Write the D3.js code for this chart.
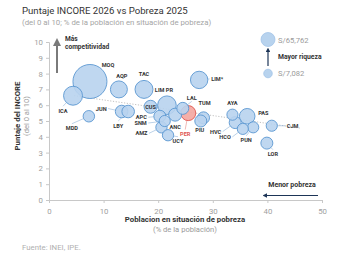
<!DOCTYPE html>
<html>
<head>
<meta charset="utf-8">
<script src="https://cdn.jsdelivr.net/npm/d3@7"></script>
<style>
  body { margin: 0; background: #fff; }
  svg { display: block; font-family: Roboto, "Open Sans", sans-serif; }
</style>
</head>
<body>
<svg id="chart" width="350" height="257"></svg>
<script>
'use strict'

// data
var regions = ["MOQ", "ICA", "MDD", "AQP", "JUN", "LBY", "TAC", "LIM PR", "LIM*", "CUS",
               "APC", "SNM", "AMZ", "ANC", "UCY", "LAL", "PER", "TUM", "PIU", "AYA",
               "PAS", "HVC", "HCO", "PUN", "CJM", "LOR"];
var pobreza = [7.5, 4.4, 7.3, 12.8, 13.3, 14.5, 17.4, 21.6, 27.5, 18.6,
               20.3, 21.2, 20.6, 23.1, 21.8, 24.5, 25.5, 28.3, 27.8, 33.6,
               36.3, 34.1, 35.5, 37.4, 40.8, 39.9];
var incore = [7.5, 6.6, 5.3, 7.0, 5.6, 5.6, 7.0, 6.0, 7.6, 5.9,
              5.3, 5.0, 4.6, 5.4, 4.1, 5.8, 5.5, 5.2, 5.0, 5.4,
              5.3, 4.9, 4.5, 4.6, 4.7, 3.6];
var pbiPc = [65762, 20500, 7500, 16400, 9000, 9000, 18400, 19700, 17200, 9600,
             8200, 7100, 7300, 9600, 7300, 8200, 12800, 8200, 8200, 7100,
             13800, 8200, 7082, 7100, 7100, 8200];
var trendX = [4.6, 46];
var trendY = [6.6, 4.55];
var xTicks = [0, 10, 20, 30, 40, 50];
var yTicks = [0, 1, 2, 3, 4, 5, 6, 7, 8, 9, 10];

// label layout: [dx, dy, anchor, leader]
var labelPos = {
  "MOQ": [18, -15, "middle", 0], "ICA": [-10, 17, "middle", 1], "MDD": [-17, 14, "middle", 1],
  "AQP": [3, -11, "middle", 0], "JUN": [-15, -1, "end", 1], "LBY": [-10, 16, "middle", 1],
  "TAC": [0, -13, "middle", 0], "LIM PR": [-3, -13, "middle", 0], "LIM*": [12, 1, "start", 1],
  "CUS": [0, 2, "middle", 0], "APC": [-13, 3, "end", 1], "SNM": [-18, 4, "end", 1],
  "AMZ": [-14, 8, "end", 1], "ANC": [0, 14, "middle", 0], "UCY": [10, 8, "middle", 1],
  "LAL": [9, -8, "middle", 1], "PER": [-3, 23, "middle", 1], "TUM": [1, -13, "middle", 0],
  "PIU": [-1, 11, "middle", 1], "AYA": [0, -10, "middle", 0], "PAS": [11, -1, "start", 0],
  "HVC": [-14, 11, "end", 1], "HCO": [-12, 10, "end", 1], "PUN": [-7, 15, "middle", 1],
  "CJM": [15, 2, "start", 1], "LOR": [6, 13, "middle", 1]
};

var svg = d3.select("#chart");
var x = d3.scaleLinear().domain([0, 50]).range([49, 322]);
var y = d3.scaleLinear().domain([0, 10]).range([200, 42]);
var r = d3.scaleSqrt().domain([0, 65762]).range([0, 17]);

// titles
svg.append("text").attr("x", 22).attr("y", 14).attr("font-size", 9.6)
  .attr("fill", "#333").text("Puntaje INCORE 2026 vs Pobreza 2025");
svg.append("text").attr("x", 22).attr("y", 24.5).attr("font-size", 7.8)
  .attr("fill", "#a5a5a5").text("(del 0 al 10; % de la población en situación de pobreza)");

// axes
var xAxis = svg.append("g").attr("transform", "translate(0,200)")
  .call(d3.axisBottom(x).tickValues(xTicks).tickSize(3).tickPadding(5));
var yAxis = svg.append("g").attr("transform", "translate(49,0)")
  .call(d3.axisLeft(y).tickValues(yTicks).tickSize(3).tickPadding(3));
[xAxis, yAxis].forEach(function(g) {
  g.select(".domain").attr("stroke", "#c8c8c8");
  g.selectAll(".tick line").attr("stroke", "#c8c8c8");
  g.selectAll(".tick text").attr("fill", "#a0a0a0").attr("font-size", 7.8)
    .attr("font-family", "Roboto, sans-serif");
});

// axis titles
svg.append("text").attr("x", 185).attr("y", 222).attr("text-anchor", "middle")
  .attr("font-size", 7.8).attr("font-weight", "bold").attr("fill", "#333")
  .text("Poblacion en situación de pobreza");
svg.append("text").attr("x", 185).attr("y", 231.5).attr("text-anchor", "middle")
  .attr("font-size", 7.6).attr("fill", "#9a9a9a").text("(% de la población)");
svg.append("text").attr("transform", "translate(20,116) rotate(-90)").attr("text-anchor", "middle")
  .attr("font-size", 7.8).attr("font-weight", "bold").attr("fill", "#333")
  .text("Puntaje del INCORE");
svg.append("text").attr("transform", "translate(29,116) rotate(-90)").attr("text-anchor", "middle")
  .attr("font-size", 7.6).attr("fill", "#9a9a9a").text("(del 0 al 10)");

svg.append("text").attr("x", 22).attr("y", 250).attr("font-size", 7.8)
  .attr("fill", "#b0b0b0").text("Fuente: INEI, IPE.");

// markers
var defs = svg.append("defs");
function marker(id, color) {
  defs.append("marker").attr("id", id).attr("viewBox", "0 0 10 10")
    .attr("refX", 5).attr("refY", 5).attr("markerWidth", 4).attr("markerHeight", 4)
    .attr("orient", "auto-start-reverse")
    .append("path").attr("d", "M0,0L10,5L0,10z").attr("fill", color);
}
marker("arrGray", "#7a7a7a");
marker("arrNavy", "#1d3557");

// annotations
svg.append("line").attr("x1", 57).attr("y1", 73).attr("x2", 57).attr("y2", 42)
  .attr("stroke", "#7a7a7a").attr("stroke-width", 2).attr("marker-end", "url(#arrGray)");
svg.append("text").attr("x", 65).attr("y", 41).attr("font-size", 6.6).attr("font-weight", "bold")
  .attr("fill", "#333").text("Más");
svg.append("text").attr("x", 65).attr("y", 49).attr("font-size", 6.6).attr("font-weight", "bold")
  .attr("fill", "#333").text("competitividad");

svg.append("line").attr("x1", 318).attr("y1", 195.5).attr("x2", 265).attr("y2", 195.5)
  .attr("stroke", "#1d3557").attr("stroke-width", 1.2).attr("marker-end", "url(#arrNavy)");
svg.append("text").attr("x", 292).attr("y", 187).attr("text-anchor", "middle")
  .attr("font-size", 7).attr("font-weight", "bold").attr("fill", "#333").text("Menor pobreza");

// size legend
svg.append("circle").attr("cx", 268).attr("cy", 39.5).attr("r", 7)
  .attr("fill", "#b8d3ee").attr("stroke", "#9cc0e6").attr("stroke-width", 0.7);
svg.append("circle").attr("cx", 268).attr("cy", 73.5).attr("r", 4.3)
  .attr("fill", "#b8d3ee").attr("stroke", "#9cc0e6").attr("stroke-width", 0.7);
svg.append("line").attr("x1", 268).attr("y1", 66).attr("x2", 268).attr("y2", 50)
  .attr("stroke", "#1d3557").attr("stroke-width", 1.2).attr("marker-end", "url(#arrNavy)");
svg.append("text").attr("x", 278).attr("y", 42.5).attr("font-size", 7.6).attr("fill", "#9a9a9a").text("S/65,762");
svg.append("text").attr("x", 278).attr("y", 76).attr("font-size", 7.6).attr("fill", "#9a9a9a").text("S/7,082");
svg.append("text").attr("x", 278).attr("y", 59).attr("font-size", 6.8).attr("font-weight", "bold")
  .attr("fill", "#333").text("Mayor riqueza");

// trend line
svg.append("line").attr("x1", x(trendX[0])).attr("y1", y(trendY[0]))
  .attr("x2", x(trendX[1])).attr("y2", y(trendY[1]))
  .attr("stroke", "#c2c2c2").attr("stroke-width", 1).attr("stroke-dasharray", "1.2,1.6");

var data = regions.map(function(d, i) {
  return { id: d, px: pobreza[i], sc: incore[i], pbi: pbiPc[i] };
});

// leader lines
var leaders = svg.append("g");
data.forEach(function(d) {
  var lp = labelPos[d.id];
  if (!lp[3]) return;
  var cx = x(d.px), cy = y(d.sc), rr = r(d.pbi);
  var lx = cx + lp[0], ly = cy + lp[1];
  var ex = lx, ey = ly - 2;
  if (lp[2] === "end") ex = lx + 1.5;
  else if (lp[2] === "start") ex = lx - 1.5;
  else if (lp[1] > 0) ey = ly - 6.5;
  else ey = ly + 1;
  var dx = ex - cx, dy = ey - cy, L = Math.sqrt(dx * dx + dy * dy);
  if (L <= rr) return;
  leaders.append("line")
    .attr("x1", cx + dx * rr / L).attr("y1", cy + dy * rr / L)
    .attr("x2", ex).attr("y2", ey)
    .attr("stroke", d.id === "PER" ? "#e58a85" : "#8fb3d9").attr("stroke-width", 0.6);
});

// bubbles, biggest first
var sorted = data.slice().sort(function(a, b) { return b.pbi - a.pbi; });
svg.append("g").selectAll("circle")
  .data(sorted)
  .enter().append("circle")
    .attr("cx", function(d) { return x(d.px); })
    .attr("cy", function(d) { return y(d.sc); })
    .attr("r", function(d) { return r(d.pbi); })
    .attr("fill", function(d) { return d.id === "PER" ? "#f4a6a0" : "#b8d3ee"; })
    .attr("fill-opacity", 0.9)
    .attr("stroke", function(d) { return d.id === "PER" ? "#e0564f" : "#5b97d1"; })
    .attr("stroke-width", 0.9);

// labels
svg.append("g").selectAll("text")
  .data(data)
  .enter().append("text")
    .attr("x", function(d) { return x(d.px) + labelPos[d.id][0]; })
    .attr("y", function(d) { return y(d.sc) + labelPos[d.id][1]; })
    .attr("text-anchor", function(d) { return labelPos[d.id][2]; })
    .attr("font-size", 5.6)
    .attr("font-weight", "bold")
    .attr("fill", function(d) { return d.id === "PER" ? "#e0564f" : "#333"; })
    .text(function(d) { return d.id; });
</script>
</body>
</html>
